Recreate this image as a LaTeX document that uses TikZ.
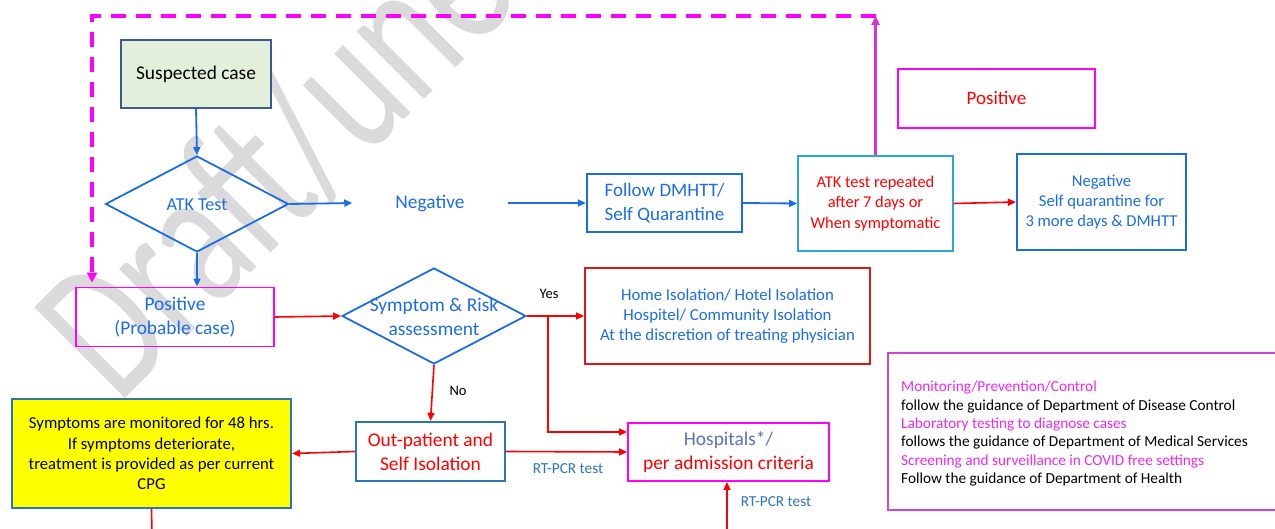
\documentclass[tikz,border=0pt]{standalone}
\usepackage{fontspec}
\setmainfont{Carlito}
\usetikzlibrary{arrows.meta,shapes.geometric}
\definecolor{tblue}{RGB}{28,108,232}
\definecolor{tred}{RGB}{255,0,0}
\definecolor{hred}{RGB}{222,24,24}
\definecolor{tmag}{RGB}{255,0,255}
\definecolor{lmag}{RGB}{206,70,206}
\definecolor{vmag}{RGB}{214,50,214}
\definecolor{smag}{RGB}{236,40,236}
\definecolor{sgreen}{RGB}{226,239,218}
\definecolor{sborder}{RGB}{62,92,148}
\definecolor{steel}{RGB}{46,117,182}
\definecolor{lblue}{RGB}{40,168,218}
\definecolor{hosptxt}{RGB}{92,112,190}
\definecolor{wmgray}{RGB}{218,218,218}
\definecolor{ybox}{RGB}{255,255,0}
\newcommand{\szA}{\fontsize{19.4}{23.7}\selectfont}
\newcommand{\szB}{\fontsize{16.7}{20.4}\selectfont}
\newcommand{\szC}{\fontsize{15.3}{18.3}\selectfont}
\newcommand{\szD}{\fontsize{14.5}{17}\selectfont}
\newcommand{\szW}{\fontsize{200}{210}\selectfont}
\begin{document}
\begin{tikzpicture}[x=1pt,y=-1pt,
  bx/.style={draw,line width=1.8pt,inner sep=2pt,align=center},
  dia/.style={draw=tblue,line width=1.8pt,shape=diamond,inner sep=0pt},
  tip/.style={-{Triangle[length=8pt,width=7pt]}},
  bline/.style={draw=tblue,line width=1.8pt,tip},
  rline/.style={draw=tred,line width=1.6pt,tip},
  lab/.style={inner sep=0pt,font=\szD}]
\useasboundingbox (0,0) rectangle (1275,529);
\clip (0,0) rectangle (1275,529);
% watermark
\node[text=wmgray,font=\szW,anchor=base west,rotate=45,inner sep=0pt] (wm) at (118,406) {\scalebox{0.72}[1]{Draft/une}};
% top row
\node[bx,draw=sborder,line width=1.4pt,fill=sgreen,minimum width=150pt,minimum height=68pt,font=\szA] (susp) at (196,74) {Suspected case};
\node[dia,minimum width=183pt,minimum height=96pt] (atk) at (197,204) {};
\node[text=tblue,font=\fontsize{18.2}{22}\selectfont,inner sep=0pt] (atkt) at (197,205) {ATK Test};
\node[text=tblue,font=\szA,inner ysep=2pt,inner xsep=43pt] (neg) at (430,203) {Negative};
\node[bx,draw=tblue,line width=2.4pt,text=tblue,minimum width=155pt,minimum height=58pt,font=\fontsize{19}{23.5}\selectfont] (follow) at (664.5,203) {Follow DMHTT/\\Self Quarantine};
\node[bx,draw=lblue,text=tred,minimum width=155pt,minimum height=95pt,font=\fontsize{16.4}{20.3}\selectfont] (rep) at (875.5,203.5) {ATK test repeated\\after 7 days or\\When symptomatic};
\node[bx,draw=tblue,line width=2.2pt,text=tblue,minimum width=169pt,minimum height=96pt,font=\fontsize{16.6}{20.3}\selectfont] (negr) at (1101.5,202) {Negative\\Self quarantine for\\3 more days \& DMHTT};
\node[bx,draw=tmag,text=tred,minimum width=197pt,minimum height=59pt,font=\fontsize{19}{23}\selectfont] (post) at (996.5,98.5) {Positive};
% middle row
\node[bx,draw=tmag,text=tblue,minimum width=198pt,minimum height=59pt,font=\szA] (prob) at (175,317) {Positive\\(Probable case)};
\node[dia,minimum width=184pt,minimum height=96pt] (symp) at (434,316) {};
\node[text=tblue,font=\szA,inner sep=0pt,align=center] (sympt) at (434,317) {Symptom \& Risk\\assessment};
\node[bx,draw=hred,text=tblue,minimum width=285pt,minimum height=96pt,font=\fontsize{16.8}{20.3}\selectfont] (home) at (727.5,316) {Home Isolation/ Hotel Isolation\\Hospitel/ Community Isolation\\At the discretion of treating physician};
% bottom row
\node[bx,draw=steel,line width=2.2pt,text=tred,minimum width=149pt,minimum height=59pt,font=\szA] (outp) at (430.5,451.5) {Out-patient and\\Self Isolation};
\node[bx,draw=tmag,minimum width=201pt,minimum height=58pt,font=\szA] (hosp) at (728.5,452) {\textcolor{hosptxt}{Hospitals*/}\\\textcolor{tred}{per admission criteria}};
\node[bx,draw=steel,line width=2.2pt,fill=ybox,minimum width=279pt,minimum height=109pt,font=\szB] (yel) at (151.5,453.5) {Symptoms are monitored for 48 hrs.\\If symptoms deteriorate,\\treatment is provided as per current\\CPG};
% legend
\node[draw=lmag,line width=1.6pt,minimum width=440pt,minimum height=157pt,inner sep=0pt] (legbox) at (1108,431.5) {};
\node[anchor=north west,inner sep=0pt,align=left,font=\szC] (legt) at (901,381) {\textcolor{smag}{Monitoring/Prevention/Control}\\follow the guidance of Department of Disease Control\\\textcolor{smag}{Laboratory testing to diagnose cases}\\follows the guidance of Department of Medical Services\\\textcolor{smag}{Screening and surveillance in COVID free settings}\\Follow the guidance of Department of Health};
% coordinates
\coordinate (ctop) at (875.5,16);
\coordinate (cleft) at (92,16);
\coordinate (cbr) at (548,316);
\coordinate (hbot) at (727,535);
\coordinate (ybot) at (152,535);
% connectors
\draw[bline] (susp.south) -- (atk.north);
\draw[bline] (atk.east) -- (neg.west);
\draw[bline] (neg.east) -- (follow.west);
\draw[bline] (follow.east) -- (rep.west);
\draw[rline] (rep.east) -- (negr.west);
\draw[draw=vmag,line width=2.4pt,-{Triangle[length=9pt,width=8pt]}] (rep.north) -- (ctop);
\draw[draw=tmag,line width=3.6pt,dash pattern=on 15pt off 10pt,-{Triangle[length=10pt,width=10pt]}] (ctop) -- (cleft) -- ([yshift=4pt]cleft |- prob.north);
\draw[bline] (atk.south) -- (atk.south |- prob.north);
\draw[rline] (prob.east) -- (symp.west);
\draw[rline] (symp.east) -- (home.west);
\draw[rline] (cbr) |- ([yshift=20pt]hosp.west);
\draw[rline] (symp.south) -- (outp.north);
\draw[rline] (outp.west) -- (yel.east);
\draw[rline] (outp.east) -- (hosp.west);
\draw[rline] (hbot) -- (hbot |- hosp.south);
\draw[draw=tred,line width=1.6pt] (yel.south) -- (ybot);
% labels
\node[lab] (yes) at (549,294) {Yes};
\node[lab] (no) at (458,391) {No};
\node[lab,text=steel,font=\szC] (rt1) at (568,469) {RT-PCR test};
\node[lab,text=steel,font=\szC] (rt2) at (776,502) {RT-PCR test};
\end{tikzpicture}
\end{document}
